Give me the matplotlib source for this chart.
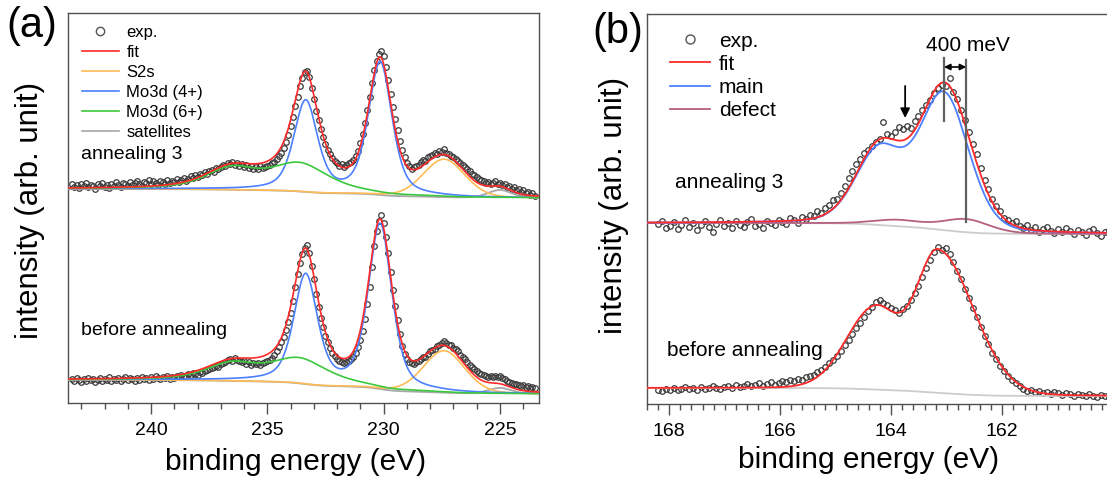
import numpy as np
import matplotlib
matplotlib.use("Agg")
import matplotlib.pyplot as plt
from matplotlib.ticker import MultipleLocator, FixedLocator
from matplotlib.lines import Line2D

plt.rcParams['font.family'] = ['Liberation Sans', 'DejaVu Sans']

# ======================= panel (a): Mo3d / S2s =======================
a_exp_start, a_exp_step = 243.4, 0.1
a_anneal3_exp = [
    219, 216, 218, 215, 219, 217, 220, 216, 218, 217,
    214, 219, 217, 220, 216, 218, 215, 219, 217, 221,
    218, 216, 220, 219, 217, 221, 218, 220, 222, 219,
    217, 221, 220, 223, 219, 222, 220, 218, 222, 221,
    219, 223, 220, 222, 221, 224, 221, 223, 225, 222,
    224, 227, 225, 228, 226, 229, 228, 231, 229, 232,
    233, 231, 235, 234, 236, 238, 237, 240, 239, 241,
    238, 240, 237, 239, 236, 238, 235, 237, 234, 236,
    234, 237, 235, 236, 237, 238, 240, 241, 244, 247,
    250, 255, 261, 268, 277, 286, 297, 306, 317, 325,
    331, 332, 326, 315, 304, 292, 283, 274, 266, 259,
    253, 249, 245, 242, 240, 237, 239, 236, 238, 240,
    241, 243, 247, 252, 260, 269, 280, 293, 306, 320,
    333, 342, 349, 352, 347, 336, 323, 309, 296, 284,
    273, 262, 253, 246, 240, 237, 234, 236, 237, 238,
    241, 243, 242, 246, 247, 248, 250, 249, 252, 251,
    254, 250, 249, 247, 246, 244, 242, 240, 238, 236,
    234, 232, 229, 228, 226, 224, 223, 222, 220, 221,
    219, 220, 222, 219, 220, 218, 219, 216, 217, 214,
    216, 213, 214, 211, 213, 210, 211, 208, 210, 207]
a_before_exp = [
    24, 22, 25, 23, 21, 24, 22, 25, 23, 24,
    21, 23, 25, 22, 24, 23, 26, 22, 24, 23,
    25, 22, 24, 26, 23, 25, 24, 22, 25, 23,
    26, 24, 25, 23, 26, 24, 27, 25, 24, 26,
    25, 27, 24, 26, 25, 27, 26, 28, 27, 26,
    29, 28, 30, 29, 28, 31, 30, 32, 33, 34,
    35, 36, 37, 36, 39, 40, 41, 43, 44, 42,
    45, 43, 42, 41, 42, 39, 41, 38, 40, 39,
    40, 38, 40, 41, 42, 43, 45, 48, 52, 56,
    61, 66, 73, 81, 90, 102, 116, 129, 140, 149,
    155, 158, 150, 137, 124, 109, 96, 85, 76, 67,
    61, 55, 50, 47, 44, 42, 41, 40, 41, 42,
    44, 46, 50, 56, 63, 72, 84, 99, 116, 136,
    157, 172, 182, 188, 180, 166, 150, 131, 113, 97,
    83, 69, 57, 49, 44, 41, 40, 39, 41, 42,
    44, 46, 46, 49, 52, 53, 54, 57, 58, 60,
    62, 60, 58, 58, 55, 54, 52, 48, 46, 44,
    41, 38, 36, 34, 32, 30, 29, 28, 27, 26,
    27, 26, 27, 26, 27, 25, 24, 22, 21, 20,
    19, 19, 18, 17, 18, 16, 17, 15, 16, 15]

# fit components (binding energy in eV, height in arb. units)
a_mo4_pos = [233.35, 230.15]
a_mo6_pos = [233.6, 236.55]
a_s2s_pos = [227.4]
a_sat_pos = [225.0]
a_anneal3_bg = [214, 205]          # background level: high-BE side, low-BE side
a_anneal3_mo4_h = [90, 132]
a_anneal3_mo6_h = [27, 20]
a_anneal3_s2s_h = [38]
a_anneal3_sat_h = [8]
a_before_bg = [23, 9]
a_before_mo4_h = [108, 164]
a_before_mo6_h = [24, 16]
a_before_s2s_h = [42]
a_before_sat_h = [6]
a_mo4_fwhm = [1.2, 1.2]
a_mo6_fwhm = [3.0, 2.6]
a_s2s_fwhm = [2.1]
a_sat_fwhm = [1.2]
a_tick_labels = [240, 235, 230, 225]

# ======================= panel (b): S2p =======================
b_exp_start, b_exp_step = 168.2, 0.07
b_anneal3_exp = [
    180, 183, 176, 178, 182, 175, 179, 184, 177, 181,
    174, 179, 183, 177, 172, 180, 184, 178, 181, 176,
    183, 179, 177, 182, 185, 178, 180, 176, 183, 181,
    179, 184, 182, 180, 186, 184, 181, 187, 185, 189,
    188, 193, 191, 196, 199, 204, 205, 211, 218, 226,
    233, 240, 245, 251, 254, 258, 262, 265, 282, 270,
    268, 272, 277, 275, 278, 276, 283, 288, 294, 299,
    304, 311, 316, 319, 318, 326, 312, 305, 294, 284,
    272, 260, 250, 236, 224, 215, 205, 198, 193, 186,
    184, 181, 183, 178, 176, 179, 174, 177, 172, 175,
    177, 173, 171, 175, 172, 176, 173, 170, 174, 172,
    169, 173, 175, 171, 168, 172, 174]
b_before_exp = [
    14, 13, 15, 14, 16, 14, 15, 17, 15, 16,
    14, 17, 15, 16, 18, 16, 15, 17, 18, 16,
    19, 17, 18, 20, 18, 19, 21, 18, 20, 22,
    19, 21, 23, 22, 24, 23, 25, 24, 27, 28,
    29, 32, 34, 37, 41, 44, 48, 53, 59, 64,
    70, 76, 81, 87, 93, 97, 102, 104, 101, 99,
    96, 94, 91, 95, 98, 104, 111, 118, 127, 136,
    144, 152, 157, 154, 156, 150, 142, 133, 125, 115,
    106, 96, 87, 77, 68, 60, 51, 45, 38, 33,
    28, 24, 21, 18, 15, 13, 14, 12, 13, 11,
    12, 10, 12, 11, 9, 11, 10, 8, 10, 9,
    8, 10, 8, 7, 9, 8, 7]

b_anneal3_bg = [181, 170]
b_anneal3_main_pos = [163.05, 164.22]
b_anneal3_main_h = [135, 73]
b_anneal3_main_fwhm_lo = [1.05, 1.0]
b_anneal3_main_fwhm_hi = [1.05, 1.0]
b_anneal3_def_pos = [162.65, 163.88]
b_anneal3_def_h = [13, 6]
b_anneal3_def_fwhm = [1.0, 1.0]
b_before_bg = [16, 8]
b_before_main_pos = [163.15, 164.3]
b_before_main_h = [141, 81]
b_before_main_fwhm_lo = [1.5, 1.0]
b_before_main_fwhm_hi = [0.95, 1.2]
b_tick_labels = [168, 166, 164, 162]


def peaks(x, pos, h, w_lo, w_hi, eta):
    out = np.zeros_like(x)
    for c, hh, wl, wh in zip(pos, h, w_lo, w_hi):
        w = np.where(x < c, wl, wh)
        u2 = (2.0 * (x - c) / w) ** 2
        out += hh * (eta / (1 + u2) + (1 - eta) * np.exp(-np.log(2) * u2))
    return out


def shirley(x, signal, levels):
    cum = np.cumsum(signal)
    return levels[1] + (levels[0] - levels[1]) * cum / cum[-1]


# ---------------- figure ----------------
W, H = 1107, 478
fig = plt.figure(figsize=(W / 100, H / 100), dpi=100)
axa = fig.add_axes([68 / W, (H - 403) / H, 471 / W, 390 / H])
axb = fig.add_axes([647 / W, (H - 404) / H, 468 / W, 390 / H])

SPINE = '#505050'
EXPC = '#3a3a3a'
RED = '#ff2a2a'
ORANGE = '#ffbb55'
BLUE = '#4d80ff'
GREEN = '#3cc83c'
GRAY = '#a8a8a8'
MAUVE = '#b5607f'
LIGHTGRAY = '#cccccc'

for ax in (axa, axb):
    for s in ax.spines.values():
        s.set_color(SPINE)
        s.set_linewidth(1.0)
    ax.tick_params(axis='x', which='both', direction='out', color=SPINE,
                   labelsize=14, pad=6, width=1.0)
    ax.tick_params(axis='x', which='major', length=8)
    ax.tick_params(axis='x', which='minor', length=4.5)
    ax.tick_params(axis='y', left=False, labelleft=False)
    ax.set_ylim(0, 390)

# ---------- panel (a) ----------
xa = np.linspace(223.0, 244.0, 3000)
for exp, bgl, h4, h6, hs, hsat in [
        (a_anneal3_exp, a_anneal3_bg, a_anneal3_mo4_h, a_anneal3_mo6_h, a_anneal3_s2s_h, a_anneal3_sat_h),
        (a_before_exp, a_before_bg, a_before_mo4_h, a_before_mo6_h, a_before_s2s_h, a_before_sat_h)]:
    ex = a_exp_start - a_exp_step * np.arange(len(exp))
    axa.plot(ex, exp, 'o', ms=4.0, mfc='none', mec=EXPC, mew=0.9, zorder=2)
    mo4 = peaks(xa, a_mo4_pos, h4, a_mo4_fwhm, a_mo4_fwhm, 0.5)
    mo6 = peaks(xa, a_mo6_pos, h6, a_mo6_fwhm, a_mo6_fwhm, 0.6)
    s2s = peaks(xa, a_s2s_pos, hs, a_s2s_fwhm, a_s2s_fwhm, 0.2)
    sat = peaks(xa, a_sat_pos, hsat, a_sat_fwhm, a_sat_fwhm, 0.3)
    bg = shirley(xa, mo4 + mo6 + s2s, bgl)
    axa.plot(xa, bg + sat, color=GRAY, lw=1.3, zorder=3)
    axa.plot(xa, bg + s2s, color=ORANGE, lw=1.2, zorder=3)
    axa.plot(xa, bg + mo4, color=BLUE, lw=1.2, zorder=3)
    axa.plot(xa, bg + mo6, color=GREEN, lw=1.2, zorder=3)
    axa.plot(xa, bg + mo4 + mo6 + s2s + sat, color=RED, lw=1.2, zorder=4)

axa.set_xlim(243.57, 223.32)
axa.xaxis.set_major_locator(FixedLocator(a_tick_labels))
axa.xaxis.set_minor_locator(MultipleLocator(1))
axa.set_xlabel('binding energy (eV)', fontsize=21.5, va='center')
axa.xaxis.set_label_coords(0.484, -0.151)
axa.set_ylabel('intensity (arb. unit)', fontsize=22.5, va='center')
axa.yaxis.set_label_coords(-0.081, 0.495)
axa.text(0.0276, 0.636, 'annealing 3', transform=axa.transAxes, fontsize=14,
         va='center', ha='left')
axa.text(0.0276, 0.185, 'before annealing', transform=axa.transAxes, fontsize=14,
         va='center', ha='left')
hand_a = [Line2D([], [], ls='none', marker='o', ms=6, mfc='none', mec='#555555', mew=1.0),
          Line2D([], [], color=RED, lw=1.2), Line2D([], [], color=ORANGE, lw=1.2),
          Line2D([], [], color=BLUE, lw=1.2), Line2D([], [], color=GREEN, lw=1.2),
          Line2D([], [], color=GRAY, lw=1.2)]
axa.legend(hand_a, ['exp.', 'fit', 'S2s', 'Mo3d (4+)', 'Mo3d (6+)', 'satellites'],
           loc='upper left', bbox_to_anchor=(0.03, 0.97), frameon=False, fontsize=12,
           handlelength=2.2, handletextpad=0.45, labelspacing=0.3, borderpad=0,
           borderaxespad=0)

# ---------- panel (b) ----------
xb = np.linspace(159.8, 168.6, 3000)
ex = b_exp_start - b_exp_step * np.arange(len(b_anneal3_exp))
axb.plot(ex, b_anneal3_exp, 'o', ms=4.0, mfc='none', mec=EXPC, mew=0.9, zorder=2)
main3 = peaks(xb, b_anneal3_main_pos, b_anneal3_main_h, b_anneal3_main_fwhm_lo,
              b_anneal3_main_fwhm_hi, 0.2)
def3 = peaks(xb, b_anneal3_def_pos, b_anneal3_def_h, b_anneal3_def_fwhm,
             b_anneal3_def_fwhm, 0.2)
bg3 = shirley(xb, main3 + def3, b_anneal3_bg)
axb.plot(xb, bg3, color=LIGHTGRAY, lw=1.3, zorder=3)
axb.plot(xb, bg3 + def3, color=MAUVE, lw=1.3, zorder=3)
axb.plot(xb, bg3 + main3, color=BLUE, lw=1.3, zorder=3)
axb.plot(xb, bg3 + main3 + def3, color=RED, lw=1.3, zorder=4)

ex = b_exp_start - b_exp_step * np.arange(len(b_before_exp))
axb.plot(ex, b_before_exp, 'o', ms=4.0, mfc='none', mec=EXPC, mew=0.9, zorder=2)
main0 = peaks(xb, b_before_main_pos, b_before_main_h, b_before_main_fwhm_lo,
              b_before_main_fwhm_hi, 0.05)
bg0 = shirley(xb, main0, b_before_bg)
axb.plot(xb, bg0, color=LIGHTGRAY, lw=1.3, zorder=3)
axb.plot(xb, bg0 + main0, color=RED, lw=1.3, zorder=4)

# 400 meV shift marker
x_main, x_def = b_anneal3_main_pos[0], b_anneal3_def_pos[0]
axb.plot([x_main, x_main], [283, 346], color='#606060', lw=1.6, zorder=5)
axb.plot([x_def, x_def], [182, 344], color='#606060', lw=1.6, zorder=5)
axb.annotate('', xy=(x_def, 337), xytext=(x_main, 337),
             arrowprops=dict(arrowstyle='<|-|>', color='black', lw=1.2,
                             mutation_scale=9, shrinkA=0, shrinkB=0), zorder=6)
axb.text(0.685, 0.92, '400 meV', transform=axb.transAxes, fontsize=15,
         ha='center', va='center')
axb.annotate('', xy=(163.75, 286), xytext=(163.75, 318),
             arrowprops=dict(arrowstyle='-|>', color='black', lw=1.3,
                             mutation_scale=14, shrinkA=0, shrinkB=0), zorder=6)

axb.set_xlim(168.4, 159.97)
axb.xaxis.set_major_locator(FixedLocator(b_tick_labels))
axb.xaxis.set_minor_locator(MultipleLocator(0.2))
axb.set_xlabel('binding energy (eV)', fontsize=21.5, va='center')
axb.xaxis.set_label_coords(0.474, -0.144)
axb.set_ylabel('intensity (arb. unit)', fontsize=22.5, va='center')
axb.yaxis.set_label_coords(-0.0705, 0.508)
axb.text(0.06, 0.567, 'annealing 3', transform=axb.transAxes, fontsize=15,
         va='center', ha='left')
axb.text(0.043, 0.138, 'before annealing', transform=axb.transAxes, fontsize=15,
         va='center', ha='left')
hand_b = [Line2D([], [], ls='none', marker='o', ms=6.5, mfc='none', mec='#555555', mew=1.0),
          Line2D([], [], color=RED, lw=1.3), Line2D([], [], color=BLUE, lw=1.3),
          Line2D([], [], color=MAUVE, lw=1.3)]
axb.legend(hand_b, ['exp.', 'fit', 'main', 'defect'],
           loc='upper left', bbox_to_anchor=(0.049, 0.955), frameon=False, fontsize=15,
           handlelength=1.9, handletextpad=0.45, labelspacing=0.2, borderpad=0,
           borderaxespad=0)

fig.text(6 / W, 1 - 26 / H, '(a)', fontsize=30, ha='left', va='center')
fig.text(592 / W, 1 - 32 / H, '(b)', fontsize=30, ha='left', va='center')

fig.savefig('out.png', dpi=100)
